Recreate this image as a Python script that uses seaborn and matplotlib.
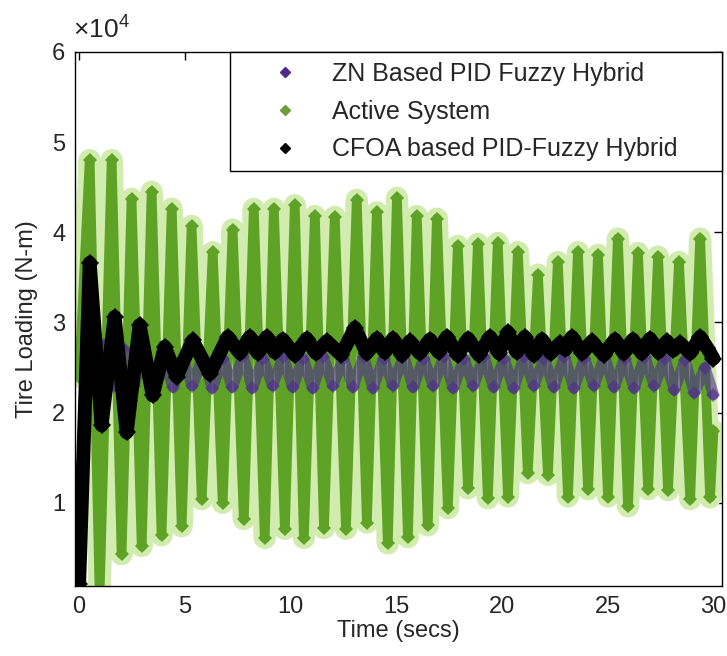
import matplotlib
matplotlib.use("Agg")
import matplotlib.pyplot as plt
import seaborn as sns
import pandas as pd
from matplotlib.lines import Line2D

# Tire loading, in units of 10^4 N-m
# ZN based PID fuzzy hybrid (purple)
zn_t = [0.0, 0.15, 0.35, 0.75, 1.2, 1.65, 2.1, 2.6, 3.05, 3.5,
        3.95, 4.45, 4.9, 5.35, 5.85, 6.3, 6.8, 7.25, 7.75, 8.2,
        8.7, 9.15, 9.65, 10.1, 10.6, 11.05, 11.55, 12.0, 12.5, 12.95,
        13.45, 13.9, 14.4, 14.85, 15.35, 15.8, 16.3, 16.75, 17.25, 17.7,
        18.2, 18.65, 19.15, 19.6, 20.1, 20.55, 21.05, 21.5, 22.0, 22.45,
        22.95, 23.4, 23.9, 24.35, 24.85, 25.3, 25.8, 26.25, 26.75, 27.2,
        27.7, 28.15, 28.65, 29.1, 29.6, 30.0]
zn_load = [0.1, 1.2, 3.0, 2.25, 2.75, 2.3, 2.7, 2.3, 2.65, 2.3,
           2.62, 2.28, 2.6, 2.3, 2.62, 2.27, 2.6, 2.28, 2.63, 2.27,
           2.6, 2.3, 2.62, 2.28, 2.6, 2.27, 2.62, 2.3, 2.6, 2.28,
           2.62, 2.27, 2.6, 2.3, 2.63, 2.28, 2.6, 2.3, 2.62, 2.27,
           2.6, 2.3, 2.62, 2.28, 2.6, 2.27, 2.62, 2.3, 2.6, 2.28,
           2.62, 2.27, 2.6, 2.3, 2.62, 2.28, 2.6, 2.27, 2.62, 2.3,
           2.6, 2.25, 2.58, 2.22, 2.5, 2.2]

# Active system (green) - peaks and troughs of each cycle
active_t = [0.0, 0.50, 0.97, 1.54, 2.01, 2.48, 2.96, 3.43, 3.90, 4.38,
            4.85, 5.32, 5.80, 6.32, 6.79, 7.26, 7.79, 8.26, 8.78, 9.21,
            9.73, 10.20, 10.63, 11.15, 11.58, 12.09, 12.62, 13.13, 13.61, 14.08,
            14.60, 15.03, 15.55, 15.97, 16.49, 16.92, 17.44, 17.91, 18.39, 18.86,
            19.33, 19.80, 20.28, 20.75, 21.22, 21.70, 22.17, 22.64, 23.12, 23.59,
            24.07, 24.54, 25.01, 25.48, 25.96, 26.43, 26.91, 27.38, 27.85, 28.37,
            28.90, 29.37, 29.84, 30.0]
active_load = [2.4, 4.80, 0.0, 4.80, 0.43, 4.37, 0.52, 4.45, 0.64, 4.26,
               0.74, 4.07, 1.04, 3.78, 1.00, 4.03, 0.82, 4.26, 0.61, 4.26,
               0.71, 4.30, 0.61, 4.18, 0.72, 4.17, 0.71, 4.36, 0.78, 4.22,
               0.55, 4.38, 0.62, 4.18, 0.75, 4.15, 0.94, 3.85, 1.16, 3.87,
               1.05, 3.88, 1.07, 3.78, 1.33, 3.53, 1.31, 3.67, 1.07, 3.78,
               1.15, 3.75, 1.07, 3.93, 0.96, 3.77, 1.15, 3.73, 1.14, 3.67,
               1.04, 3.93, 1.06, 1.8]

# CFOA based PID-fuzzy hybrid (black)
cfoa_t = [0.0, 0.50, 1.06, 1.68, 2.25, 2.86, 3.48, 4.05, 4.61, 5.37,
          6.18, 7.03, 7.6, 8.07, 8.45, 8.87, 9.25, 9.63, 10.2, 10.77,
          11.2, 11.71, 12.4, 13.04, 13.6, 14.08, 14.45, 14.84, 15.25, 15.64,
          16.1, 16.59, 17.0, 17.39, 17.9, 18.4, 18.9, 19.43, 19.85, 20.28,
          20.7, 21.08, 21.5, 21.89, 22.3, 22.74, 23.0, 23.31, 23.8, 24.25,
          24.8, 25.34, 25.75, 26.19, 26.6, 27.0, 27.4, 27.80, 28.1, 28.42,
          28.9, 29.37, 29.7, 30.0]
cfoa_load = [0.1, 3.66, 1.86, 3.06, 1.78, 2.97, 2.19, 2.73, 2.40, 2.80,
             2.43, 2.84, 2.66, 2.84, 2.66, 2.84, 2.67, 2.81, 2.64, 2.82,
             2.66, 2.79, 2.64, 2.94, 2.66, 2.82, 2.67, 2.82, 2.64, 2.79,
             2.66, 2.81, 2.67, 2.84, 2.64, 2.82, 2.64, 2.84, 2.66, 2.89,
             2.67, 2.84, 2.64, 2.81, 2.66, 2.77, 2.70, 2.84, 2.66, 2.79,
             2.64, 2.81, 2.66, 2.81, 2.66, 2.82, 2.67, 2.79, 2.69, 2.77,
             2.66, 2.84, 2.72, 2.60]

labels = ["ZN Based PID Fuzzy Hybrid", "Active System", "CFOA based PID-Fuzzy Hybrid"]
y_ticks = [1, 2, 3, 4, 5, 6]
x_ticks = [0, 5, 10, 15, 20, 25, 30]

zn_df = pd.DataFrame({"t": zn_t, "load": zn_load})
active_df = pd.DataFrame({"t": active_t, "load": active_load})
cfoa_df = pd.DataFrame({"t": cfoa_t, "load": cfoa_load})

sns.set_theme(style="white")
plt.rcParams["font.family"] = ["Liberation Sans", "DejaVu Sans"]
plt.rcParams["mathtext.fontset"] = "custom"
plt.rcParams["mathtext.rm"] = "Liberation Sans"

fig = plt.figure(figsize=(7.27, 6.56), dpi=100)
ax = fig.add_axes([0.103, 0.107, 0.890, 0.814])

purple = "#4e2a8e"
green = "#5ea226"
pale = "#d2ecb0"

# pale halo under the green oscillation
sns.lineplot(data=active_df, x="t", y="load", sort=False, estimator=None,
             color=pale, linewidth=16, ax=ax, zorder=1)
sns.lineplot(data=active_df, x="t", y="load", sort=False, estimator=None,
             color=green, linewidth=7, marker="D", markersize=7,
             markeredgewidth=0, ax=ax, zorder=2)
sns.lineplot(data=zn_df, x="t", y="load", sort=False, estimator=None,
             color=purple, linewidth=8, marker="D", markersize=7,
             markeredgewidth=0, alpha=0.6, ax=ax, zorder=3)
sns.lineplot(data=cfoa_df, x="t", y="load", sort=False, estimator=None,
             color="black", linewidth=10, marker="D", markersize=9,
             markeredgewidth=0, ax=ax, zorder=4)

ax.set_xlim(-0.2, 30.4)
ax.set_ylim(0.08, 6)
ax.set_xticks(x_ticks)
ax.set_xticklabels([str(v) for v in x_ticks])
ax.set_yticks(y_ticks)
ax.set_yticklabels([str(v) for v in y_ticks])
ax.tick_params(direction="in", top=True, right=True, length=6, width=1,
               color="black", labelsize=17, pad=7)
for s in ax.spines.values():
    s.set_color("black")
    s.set_linewidth(1)

ax.set_xlabel("Time (secs)", fontsize=17, labelpad=2)
ax.set_ylabel("Tire Loading (N-m)", fontsize=17, labelpad=10)
fig.text(0.100, 0.942, "×10$^{\\mathregular{4}}$", fontsize=19)

handles = [Line2D([], [], linestyle="none", marker="D", markersize=5, color=c)
           for c in [purple, "#6a9e3a", "black"]]
leg = ax.legend(handles, labels, loc="upper right",
                bbox_to_anchor=(0.2396, 0, 0.7604, 1), mode="expand",
                borderaxespad=0, fontsize=18, frameon=True, fancybox=False,
                framealpha=1, edgecolor="black", borderpad=0.4,
                handlelength=3.6, handletextpad=0.1, labelspacing=0.55)
leg.get_frame().set_linewidth(1)
leg.set_zorder(10)

fig.savefig("out.png", dpi=100)
